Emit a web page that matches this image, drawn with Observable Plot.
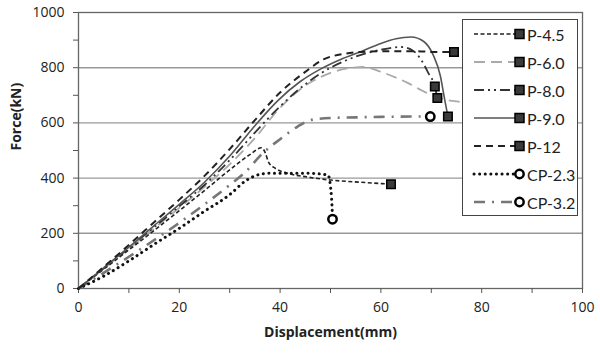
<!DOCTYPE html>
<html><head><meta charset="utf-8">
<script src="https://cdn.jsdelivr.net/npm/d3@7"></script>
<script src="https://cdn.jsdelivr.net/npm/@observablehq/plot@0.6"></script>
<style>
body{margin:0;background:#fff;}
#wrap{position:relative;width:600px;height:356px;font-family:"Open Sans",sans-serif;}
#legend{position:absolute;left:462px;top:19px;width:114px;height:195px;background:#fff;border:1.5px solid #444;}
.row{position:absolute;left:0;height:20px;display:flex;align-items:center;}
.row span{font-family:Lato,"Open Sans",sans-serif;font-size:16px;color:#222;margin-left:2px;}
</style></head>
<body><div id="wrap"><div id="chart"></div><div id="legend"></div></div>
<script>
// ---- data ----
const seriesNames = ["P-4.5","P-6.0","P-8.0","P-9.0","P-12","CP-2.3","CP-3.2"];
const xP45 = [0,5,10,15,20,25,30,34,36.3,37.1,37.7,39,41.4,45.4,50,56,62];
const yP45 = [0,70,140,210,282,355,430,485,510,490,458,436,418,404,393,385,378];
const xP60 = [0,5,10,15,20,25,30,35,40,45,50,54,56.5,60,65.3,69.2,73.2,75.8,79];
const yP60 = [0,72,145,218,292,368,450,545,655,735,781,799,803,785,745,708,683,676,668];
const xP80 = [0,5,10,15,20,25,30,35,40,45,50,55,60,64,66.5,68,69.4,70.7,71.2];
const yP80 = [0,73,147,222,298,375,465,565,660,740,800,840,865,875,860,828,781,732,690];
const xP90 = [0,5,10,15,20,25,30,35,39.5,44,48,52,56,60,63,66,68.5,70.4,71.8,72.6,73.3];
const yP90 = [0,75,150,228,305,385,480,590,680,750,795,830,858,888,905,911,895,845,770,690,623];
const xP12 = [0,5,10,15,20,25,30,35,40,45,48.6,52.6,56,62,67,70.4,74.5];
const yP12 = [0,78,158,240,322,408,505,610,710,785,830,850,857,860,860,857,857];
const xCP23 = [0,5,10,15,20,25,30,33,35,38,45,49.5,50.2,50.4];
const yCP23 = [0,45,100,160,218,280,340,388,408,418,418,411,330,251];
const xCP32 = [0,10,20,25,30,33,36.7,40,43.4,46,50,55,60,67.9,69.8];
const yCP32 = [0,115,238,305,375,420,493,541,586,610,618,620,622,623,623];
const squareX = [62,74.5,70.7,71.2,73.3];
const squareY = [378,857,732,690,623];
const circleX = [50.4,69.8];
const circleY = [251,623];
const xTicks = d3.range(0,101,10);
const yTicks = d3.range(0,1001,100);

const xs = [xP45,xP60,xP80,xP90,xP12,xCP23,xCP32];
const ys = [yP45,yP60,yP80,yP90,yP12,yCP23,yCP32];
const styles = [
  {stroke:"#222",strokeWidth:1.6,strokeDasharray:"4,2.5",marker:"square"},
  {stroke:"#aaa",strokeWidth:1.8,strokeDasharray:"11,6",marker:"square"},
  {stroke:"#333",strokeWidth:1.8,strokeDasharray:"10,4,2,4,2,4",marker:"square"},
  {stroke:"#555",strokeWidth:1.6,strokeDasharray:null,marker:"square"},
  {stroke:"#222",strokeWidth:2,strokeDasharray:"7,5",marker:"square"},
  {stroke:"#111",strokeWidth:3,strokeDasharray:"0.1,5.5",marker:"circle",linecap:"round"},
  {stroke:"#777",strokeWidth:2.6,strokeDasharray:"11,7,2,7",marker:"circle"}
];
const tables = seriesNames.map((n,i)=>xs[i].map((x,j)=>({name:n,x,y:ys[i][j]})));
const squares = squareX.map((x,i)=>({x,y:squareY[i]}));
const circles = circleX.map((x,i)=>({x,y:circleY[i]}));

const drawOrder = [1,6,0,5,2,3,4];
const lineMarks = drawOrder.map(i=>Plot.line(tables[i],{x:"x",y:"y",curve:"monotone-x",
  stroke:styles[i].stroke,strokeWidth:styles[i].strokeWidth,
  strokeDasharray:styles[i].strokeDasharray||undefined,strokeLinecap:styles[i].linecap||"butt"}));

const chart = Plot.plot({
  width:600,height:356,
  marginLeft:78,marginRight:18,marginTop:12,marginBottom:68,
  style:{fontFamily:"'Open Sans',sans-serif",fontSize:"14px",color:"#222",background:"#fff"},
  x:{domain:[0,100]},
  y:{domain:[0,1000]},
  marks:[
    Plot.gridY([200,400,600,800],{stroke:"#999",strokeOpacity:1,strokeWidth:1.4}),
    Plot.frame({stroke:"#666",strokeWidth:1.3}),
    Plot.axisY({ticks:yTicks,tickFormat:d=>d%200===0?String(d):"",tickSize:5,tickPadding:9,stroke:"#555",fontSize:14,label:null}),
    Plot.axisX({ticks:xTicks,tickFormat:d=>d%20===0?String(d):"",tickSize:5,tickPadding:9,stroke:"#555",fontSize:14,label:null}),
    Plot.text(["Force(kN)"],{frameAnchor:"left",dx:-62,rotate:-90,fontWeight:"bold",fontSize:14}),
    Plot.text(["Displacement(mm)"],{frameAnchor:"bottom",dy:48,fontWeight:"bold",fontSize:14}),
    ...lineMarks,
    Plot.dot(squares,{x:"x",y:"y",symbol:"square",r:4.8,fill:"#3a3a3a",stroke:"#000",strokeWidth:1.5}),
    Plot.dot(circles,{x:"x",y:"y",symbol:"circle",r:4.2,fill:"#fff",stroke:"#000",strokeWidth:2.5})
  ]
});
document.getElementById("chart").appendChild(chart);

// ---- legend ----
const leg = document.getElementById("legend");
seriesNames.forEach((n,i)=>{
  const s = styles[i];
  const row = document.createElement("div");
  row.className="row";
  row.style.top = (4 + i*28) + "px";
  row.style.left = "9px";
  const dash = s.strokeDasharray ? `stroke-dasharray="${s.strokeDasharray}"` : "";
  const mk = s.marker==="square"
    ? `<rect x="43" y="5.5" width="9" height="9" fill="#3a3a3a" stroke="#000" stroke-width="1.5"/>`
    : `<circle cx="47.5" cy="10" r="4.2" fill="#fff" stroke="#000" stroke-width="2.5"/>`;
  row.innerHTML = `<svg width="53" height="20"><line x1="2" y1="10" x2="44" y2="10" stroke="${s.stroke}" stroke-width="${s.strokeWidth}" ${dash} stroke-linecap="${s.linecap||'butt'}"/>${mk}</svg><span>${n}</span>`;
  leg.appendChild(row);
});
</script></body></html>
